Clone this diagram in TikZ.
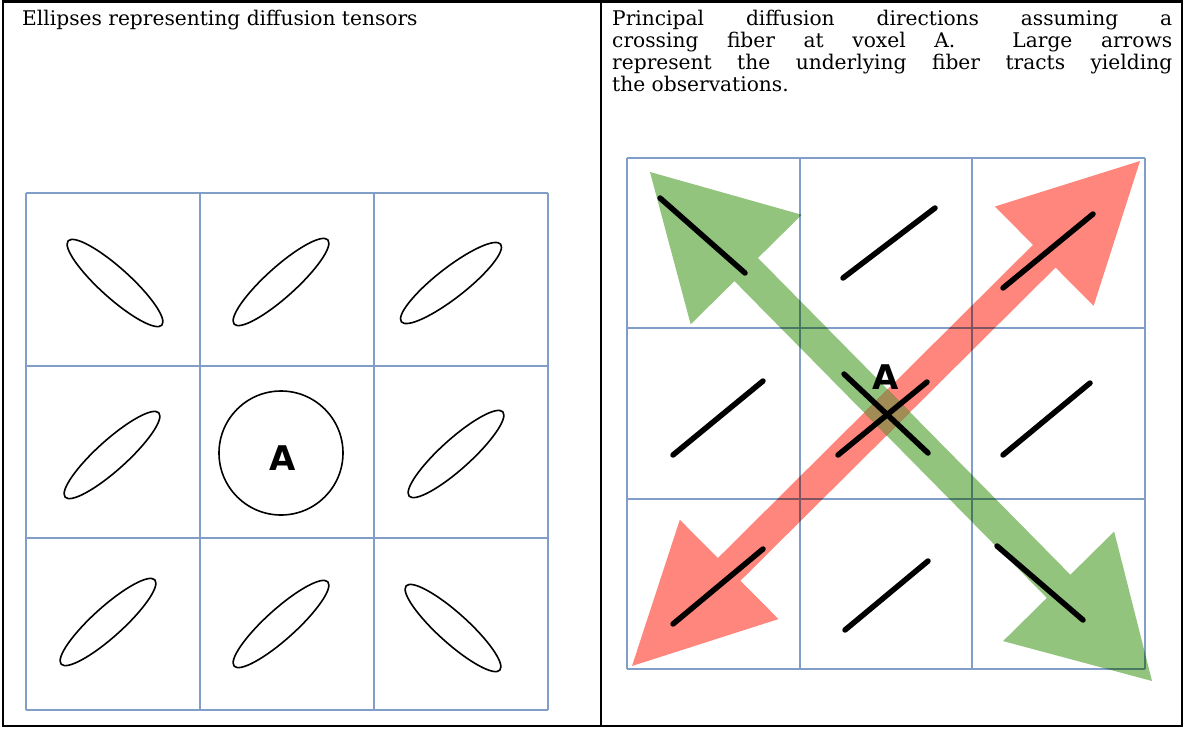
\documentclass[tikz,border=0pt]{standalone}
\usepackage{fontspec}
\setmainfont{DejaVu Serif}
\newfontfamily\handfont{DejaVu Sans}
\usetikzlibrary{calc}
\definecolor{gridblue}{RGB}{128,158,200}
\definecolor{fibregreen}{RGB}{146,196,126}
\definecolor{fibrered}{RGB}{255,134,124}
\definecolor{fibreboth}{RGB}{160,140,84}
% double headed fibre tract: path command, tip, tip, head half width, shaft half width
\newcommand{\tract}[5]{%
  #1 (#2)
    -- ($(#2h)!#4!90:(#3)$) -- ($(#2h)!#5!90:(#3)$)
    -- ($(#3h)!#5!-90:(#2)$) -- ($(#3h)!#4!-90:(#2)$)
    -- (#3)
    -- ($(#3h)!#4!90:(#2)$) -- ($(#3h)!#5!90:(#2)$)
    -- ($(#2h)!#5!-90:(#3)$) -- ($(#2h)!#4!-90:(#3)$)
    -- cycle;}

\begin{document}
\begin{tikzpicture}[x=1pt,y=-1pt,
  gridline/.style={gridblue,line width=2pt},
  tensor/.style={black,line width=1.6pt},
  stick/.style={black,line width=5.5pt,line cap=round},
  every node/.style={inner sep=0pt}]
\useasboundingbox (0,0) rectangle (1185,728);
\fill[white] (0,0) rectangle (1185,728);
% table
\draw[line width=2.2pt] (3,1.5) rectangle (1182,726);
\draw[line width=2.2pt] (601,1.5) -- (601,726);
\node[anchor=base west,font=\fontsize{20.2}{22.3}\selectfont] (lefttitle) at (22,25)
  {Ellipses representing diffusion tensors};
\node[anchor=north west,text width=560pt,align=justify,
  font=\fontsize{20.2}{22.3}\selectfont] (righttitle) at (612,9.5)
  {Principal diffusion directions assuming a\linebreak
   crossing fiber at voxel A.\ \ Large arrows\linebreak
   represent the underlying fiber tracts yielding\linebreak
   the observations.};

% left: tensor ellipses
\foreach \gx in {26,200,374,548} \draw[gridline] (\gx,193) -- (\gx,710);
\foreach \gy in {193,366,538,710} \draw[gridline] (26,\gy) -- (548,\gy);
\foreach \cx/\cy/\ang in {115/283/-42,281/282/42,451/283/38,112/455/42,
                         456/454/42,108/622/42,281/624/42,453/628/-42}
  \draw[tensor,rotate around={\ang:(\cx,\cy)}] (\cx,\cy) ellipse [x radius=63,y radius=15];
\draw[tensor] (281,453) circle [radius=62];
\node[font=\handfont\bfseries\fontsize{34}{34}\selectfont] (voxelA) at (283,458) {A};

% right: principal directions
\foreach \gx in {627,800,972,1145} \draw[gridline] (\gx,158) -- (\gx,669);
\foreach \gy in {158,328,499,669} \draw[gridline] (627,\gy) -- (1145,\gy);
\coordinate (gtop) at (650,172);
\coordinate (gbot) at (1152,681);
\coordinate (rtop) at (1140,161);
\coordinate (rbot) at (632,666);
\coordinate (gtoph) at ($(gtop)!137pt!(gbot)$);
\coordinate (gboth) at ($(gbot)!133pt!(gtop)$);
\coordinate (rtoph) at ($(rtop)!135pt!(rbot)$);
\coordinate (rboth) at ($(rbot)!137pt!(rtop)$);
\begin{scope}[blend mode=multiply]
\tract{\fill[fibrered]}{rbot}{rtop}{70pt}{16pt}
\tract{\fill[fibregreen]}{gtop}{gbot}{78pt}{16.5pt}
\end{scope}
\begin{scope}
\tract{\clip}{rbot}{rtop}{70pt}{16pt}
\tract{\fill[fibreboth]}{gtop}{gbot}{78pt}{16.5pt}
\end{scope}
\foreach \ax/\ay/\bx/\by in {660/198/745/273,843/278/935/208,1003/288/1093/214,
    673/455/763/381,844/374/928/453,838/455/927/382,1003/455/1090/383,
    673/624/763/549,845/630/928/561,997/546/1083/620}
  \draw[stick] (\ax,\ay) -- (\bx,\by);
\node[font=\handfont\bfseries\fontsize{34}{34}\selectfont] (voxelAx) at (886,377) {A};
\end{tikzpicture}
\end{document}
